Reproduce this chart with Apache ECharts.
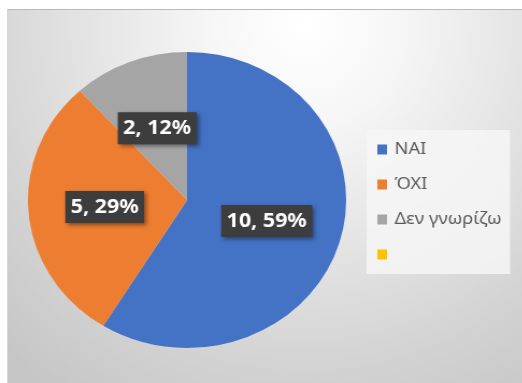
<!DOCTYPE html>
<html>
<head>
<meta charset="utf-8">
<script src="https://cdn.jsdelivr.net/npm/echarts@6/dist/echarts.min.js"></script>
<style>
  html, body { margin: 0; padding: 0; background: #ffffff; }
  #frame {
    position: absolute; left: 7px; top: 9px; width: 515px; height: 374px;
    box-sizing: border-box;
    border-top: 1px solid #b9b9b9; border-left: 1px solid #d6d6d6;
    background: radial-gradient(ellipse 85% 120% at 58% 4%, #ffffff 0%, #f6f6f6 22%, #e4e4e4 50%, #d2d2d2 78%, #c6c6c6 100%);
  }
  #chart {
    position: absolute; left: 0; top: 0; width: 486px; height: 383px;
    transform: scaleX(1.075); transform-origin: 0 0;
  }
</style>
</head>
<body>
<div id="frame"></div>
<div id="chart"></div>
<script>
// Survey answers
const categories = ['ΝΑΙ', 'ΌΧΙ', 'Δεν γνωρίζω', ' '];
const counts = [10, 5, 2, 0];
const sliceColors = ['#4472C4', '#ED7D31', '#A5A5A5', '#FFC000'];

const chart = echarts.init(document.getElementById('chart'), null, { renderer: 'canvas' });

const pieData = categories.map((name, i) => ({
  name: name,
  value: counts[i],
  itemStyle: { color: sliceColors[i] },
  label: { show: counts[i] > 0 }
}));

chart.setOption({
  animation: false,
  backgroundColor: 'transparent',
  legend: {
    orient: 'vertical',
    left: 341,
    top: 130,
    padding: [10, 8, 10, 10],
    backgroundColor: 'rgba(246,246,246,0.85)',
    itemWidth: 9,
    itemHeight: 10,
    itemGap: 16,
    icon: 'rect',
    selectedMode: false,
    data: categories,
    textStyle: {
      fontFamily: 'Noto Sans',
      fontSize: 17,
      lineHeight: 19,
      color: '#595959',
      padding: [0, 0, 0, 2]
    }
  },
  series: [{
    type: 'pie',
    center: [174, 200],
    radius: 148,
    startAngle: 90,
    clockwise: true,
    percentPrecision: 0,
    avoidLabelOverlap: false,
    itemStyle: { borderWidth: 0 },
    label: {
      show: true,
      position: 'inside',
      formatter: '{c}, {d}%',
      fontFamily: 'Noto Sans',
      fontWeight: 'bold',
      fontSize: 20,
      lineHeight: 24,
      color: '#ffffff',
      backgroundColor: '#3d3d3d',
      padding: [4, 5, 4, 5],
      shadowColor: 'rgba(0,0,0,0.45)',
      shadowBlur: 4,
      shadowOffsetX: 2,
      shadowOffsetY: 2
    },
    labelLine: { show: false },
    emphasis: { disabled: true },
    data: pieData
  }]
});
</script>
</body>
</html>
